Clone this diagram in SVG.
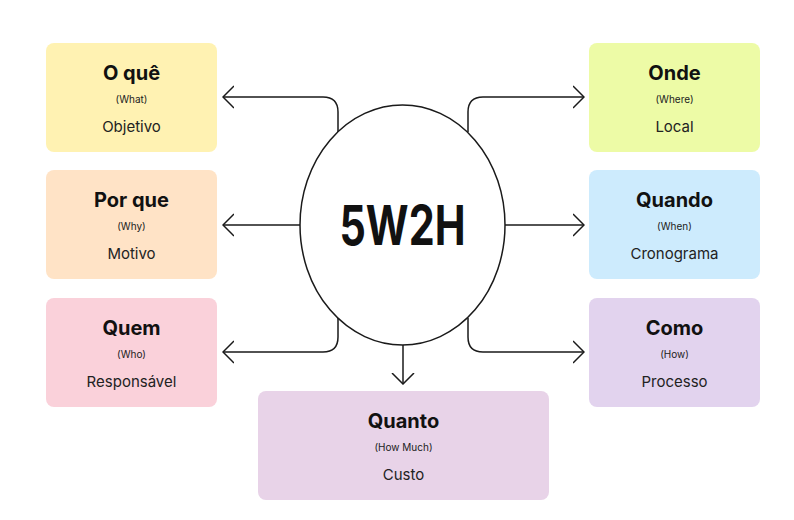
<svg xmlns="http://www.w3.org/2000/svg" width="794" height="520" viewBox="0 0 794 520">
<defs>
<marker id="ah" viewBox="0 0 12 24" refX="11" refY="12" markerWidth="12" markerHeight="24" markerUnits="userSpaceOnUse" orient="auto">
<path d="M0,1 L11,12 L0,23" fill="none" stroke="#1a1a1a" stroke-width="1.5"/>
</marker>
<style>
.box{stroke:none}
.t{font-family:Inter,"Liberation Sans",sans-serif;font-weight:700;font-size:20px;fill:#111;text-anchor:middle}
.s{font-family:Inter,"Liberation Sans",sans-serif;font-size:10px;fill:#222;text-anchor:middle}
.b{font-family:Inter,"Liberation Sans",sans-serif;font-size:15px;fill:#222;text-anchor:middle}
.c{fill:none;stroke:#1a1a1a;stroke-width:1.5;marker-end:url(#ah)}
</style>
</defs>
<rect width="794" height="520" fill="#fff"/>
<g id="connectors">
<path class="c" d="M338,132 V112 Q338,97 323,97 H223"/>
<path class="c" d="M468,132 V112 Q468,97 483,97 H584"/>
<path class="c" d="M300,225 H223"/>
<path class="c" d="M505,225 H584"/>
<path class="c" d="M338,318 V337 Q338,352 323,352 H223"/>
<path class="c" d="M468,318 V337 Q468,352 483,352 H584"/>
<path class="c" d="M403,345 V384"/>
</g>
<g id="center">
<ellipse cx="402.5" cy="225" rx="102.5" ry="120" fill="#fff" stroke="#1a1a1a" stroke-width="1.5"/>
<text x="402.5" y="245" font-family="Inter,'Liberation Sans',sans-serif" font-weight="700" font-size="55" fill="#111" text-anchor="middle" textLength="126" lengthAdjust="spacingAndGlyphs">5W2H</text>
</g>
<g id="oque">
<rect class="box" x="46" y="43" width="171" height="109" rx="8" fill="#FFF2B2"/>
<text class="t" x="131.5" y="80">O quê</text>
<text class="s" x="131.5" y="103">(What)</text>
<text class="b" x="131.5" y="132">Objetivo</text>
</g>
<g id="porque">
<rect class="box" x="46" y="170" width="171" height="109" rx="8" fill="#FFE3C6"/>
<text class="t" x="131.5" y="207">Por que</text>
<text class="s" x="131.5" y="230">(Why)</text>
<text class="b" x="131.5" y="259">Motivo</text>
</g>
<g id="quem">
<rect class="box" x="46" y="298" width="171" height="109" rx="8" fill="#FAD1DA"/>
<text class="t" x="131.5" y="335">Quem</text>
<text class="s" x="131.5" y="358">(Who)</text>
<text class="b" x="131.5" y="387">Responsável</text>
</g>
<g id="onde">
<rect class="box" x="589" y="43" width="171" height="109" rx="8" fill="#EDFBA6"/>
<text class="t" x="674.5" y="80">Onde</text>
<text class="s" x="674.5" y="103">(Where)</text>
<text class="b" x="674.5" y="132">Local</text>
</g>
<g id="quando">
<rect class="box" x="589" y="170" width="171" height="109" rx="8" fill="#CDEBFD"/>
<text class="t" x="674.5" y="207">Quando</text>
<text class="s" x="674.5" y="230">(When)</text>
<text class="b" x="674.5" y="259">Cronograma</text>
</g>
<g id="como">
<rect class="box" x="589" y="298" width="171" height="109" rx="8" fill="#E2D3EE"/>
<text class="t" x="674.5" y="335">Como</text>
<text class="s" x="674.5" y="358">(How)</text>
<text class="b" x="674.5" y="387">Processo</text>
</g>
<g id="quanto">
<rect class="box" x="258" y="391" width="291" height="109" rx="8" fill="#E8D3E8"/>
<text class="t" x="403.5" y="428">Quanto</text>
<text class="s" x="403.5" y="451">(How Much)</text>
<text class="b" x="403.5" y="480">Custo</text>
</g>
</svg>
